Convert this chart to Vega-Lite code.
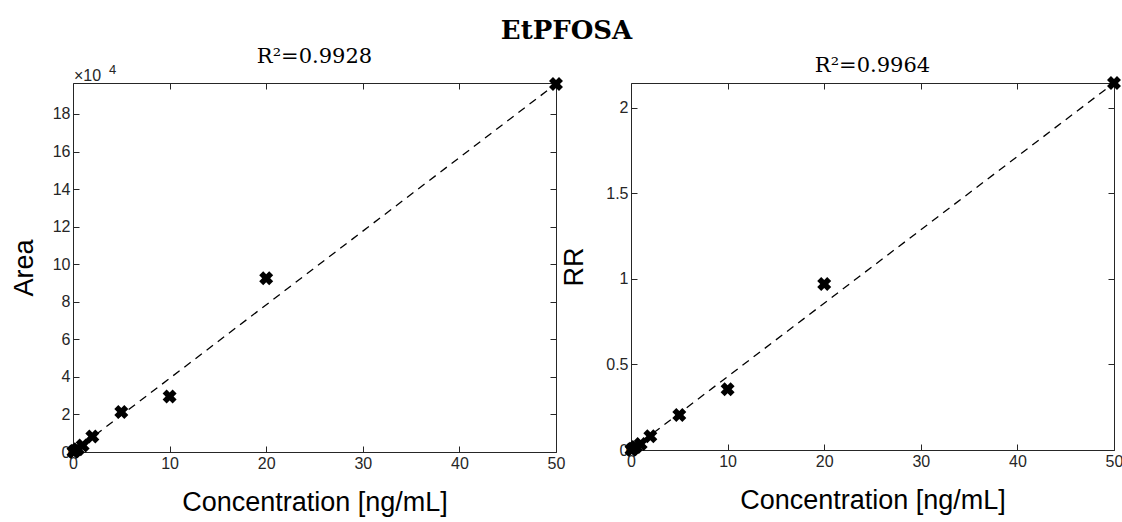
{
  "$schema": "https://vega.github.io/schema/vega-lite/v6.json",
  "background": "white",
  "padding": {"left": 10, "top": 18, "right": 0, "bottom": 6},
  "title": {
    "text": "EtPFOSA",
    "font": "DejaVu Serif",
    "fontWeight": "bold",
    "fontSize": 26,
    "color": "black",
    "anchor": "middle",
    "offset": 2
  },
  "datasets": {
    "area": [
      {"conc": 0.05, "area": 100},
      {"conc": 0.1, "area": 300},
      {"conc": 0.2, "area": 600},
      {"conc": 0.5, "area": 1500},
      {"conc": 1, "area": 3500},
      {"conc": 2, "area": 8300},
      {"conc": 5, "area": 21300},
      {"conc": 10, "area": 29500},
      {"conc": 20, "area": 92500},
      {"conc": 50, "area": 196000}
    ],
    "areaFit": [
      {"conc": 0, "area": 0},
      {"conc": 50, "area": 196000}
    ],
    "rr": [
      {"conc": 0.05, "rr": 0.0015},
      {"conc": 0.1, "rr": 0.003},
      {"conc": 0.2, "rr": 0.007},
      {"conc": 0.5, "rr": 0.017},
      {"conc": 1, "rr": 0.035},
      {"conc": 2, "rr": 0.08},
      {"conc": 5, "rr": 0.205},
      {"conc": 10, "rr": 0.355},
      {"conc": 20, "rr": 0.97},
      {"conc": 50, "rr": 2.145}
    ],
    "rrFit": [
      {"conc": 0, "rr": 0},
      {"conc": 50, "rr": 2.145}
    ],
    "areaExp": [
      {"conc": 0, "area": 196500, "base": "×10", "power": "4"}
    ]
  },
  "spacing": -5,
  "hconcat": [
    {
      "width": 483,
      "height": 369,
      "title": {"text": "R²=0.9928", "font": "DejaVu Serif", "fontSize": 21, "fontWeight": "normal", "color": "black", "offset": -3},
      "layer": [
        {
          "data": {"name": "areaFit"},
          "mark": {"type": "line", "color": "black", "strokeWidth": 1.3, "strokeDash": [8, 6]},
          "encoding": {
            "x": {"field": "conc", "type": "quantitative", "scale": {"domain": [0, 50], "nice": false, "zero": false},
                  "axis": {"orient": "bottom", "values": [0, 10, 20, 30, 40, 50], "title": "Concentration [ng/mL]", "titlePadding": 18}},
            "y": {"field": "area", "type": "quantitative", "scale": {"domain": [0, 196500], "nice": false},
                  "axis": {"orient": "left", "values": [0, 20000, 40000, 60000, 80000, 100000, 120000, 140000, 160000, 180000],
                           "labelExpr": "datum.value / 10000", "title": "Area", "titlePadding": 14}}
          }
        },
        {
          "data": {"name": "area"},
          "mark": {"type": "point", "shape": "cross", "angle": 45, "filled": true, "color": "black", "opacity": 1, "size": 200},
          "encoding": {
            "x": {"field": "conc", "type": "quantitative",
                  "axis": {"orient": "top", "values": [0, 10, 20, 30, 40, 50], "labels": false, "title": null}},
            "y": {"field": "area", "type": "quantitative",
                  "axis": {"orient": "right", "values": [0, 20000, 40000, 60000, 80000, 100000, 120000, 140000, 160000, 180000], "labels": false, "title": null}}
          }
        },
        {
          "data": {"name": "areaExp"},
          "mark": {"type": "text", "align": "left", "baseline": "bottom", "dx": 1, "dy": 1, "font": "Liberation Sans", "fontSize": 16, "color": "#262626"},
          "encoding": {
            "x": {"field": "conc", "type": "quantitative", "axis": null},
            "y": {"field": "area", "type": "quantitative", "axis": null},
            "text": {"field": "base"}
          }
        },
        {
          "data": {"name": "areaExp"},
          "mark": {"type": "text", "align": "left", "baseline": "bottom", "dx": 36, "dy": -6, "font": "Liberation Sans", "fontSize": 13, "color": "#262626"},
          "encoding": {
            "x": {"field": "conc", "type": "quantitative", "axis": null},
            "y": {"field": "area", "type": "quantitative", "axis": null},
            "text": {"field": "power"}
          }
        }
      ],
      "resolve": {"axis": {"x": "independent", "y": "independent"}}
    },
    {
      "width": 483,
      "height": 367,
      "title": {"text": "R²=0.9964", "font": "DejaVu Serif", "fontSize": 21, "fontWeight": "normal", "color": "black", "offset": 0},
      "layer": [
        {
          "data": {"name": "rrFit"},
          "mark": {"type": "line", "color": "black", "strokeWidth": 1.3, "strokeDash": [8, 6]},
          "encoding": {
            "x": {"field": "conc", "type": "quantitative", "scale": {"domain": [0, 50], "nice": false, "zero": false},
                  "axis": {"orient": "bottom", "values": [0, 10, 20, 30, 40, 50], "title": "Concentration [ng/mL]", "titlePadding": 18}},
            "y": {"field": "rr", "type": "quantitative", "scale": {"domain": [0, 2.145], "nice": false},
                  "axis": {"orient": "left", "values": [0, 0.5, 1, 1.5, 2], "format": "~g", "title": "RR", "titlePadding": 17}}
          }
        },
        {
          "data": {"name": "rr"},
          "mark": {"type": "point", "shape": "cross", "angle": 45, "filled": true, "color": "black", "opacity": 1, "size": 200},
          "encoding": {
            "x": {"field": "conc", "type": "quantitative",
                  "axis": {"orient": "top", "values": [0, 10, 20, 30, 40, 50], "labels": false, "title": null}},
            "y": {"field": "rr", "type": "quantitative",
                  "axis": {"orient": "right", "values": [0, 0.5, 1, 1.5, 2], "labels": false, "title": null}}
          }
        }
      ],
      "resolve": {"axis": {"x": "independent", "y": "independent"}}
    }
  ],
  "config": {
    "view": {"stroke": null},
    "axis": {
      "labelFont": "Liberation Sans",
      "labelFontSize": 16,
      "labelColor": "#262626",
      "titleFont": "Liberation Sans",
      "titleFontSize": 27,
      "titleFontWeight": "normal",
      "titleColor": "black",
      "domainColor": "#262626",
      "domainWidth": 1,
      "tickColor": "#262626",
      "tickSize": -6,
      "labelPadding": 9,
      "grid": false,
      "labelFlush": false,
      "labelOverlap": false
    }
  }
}
